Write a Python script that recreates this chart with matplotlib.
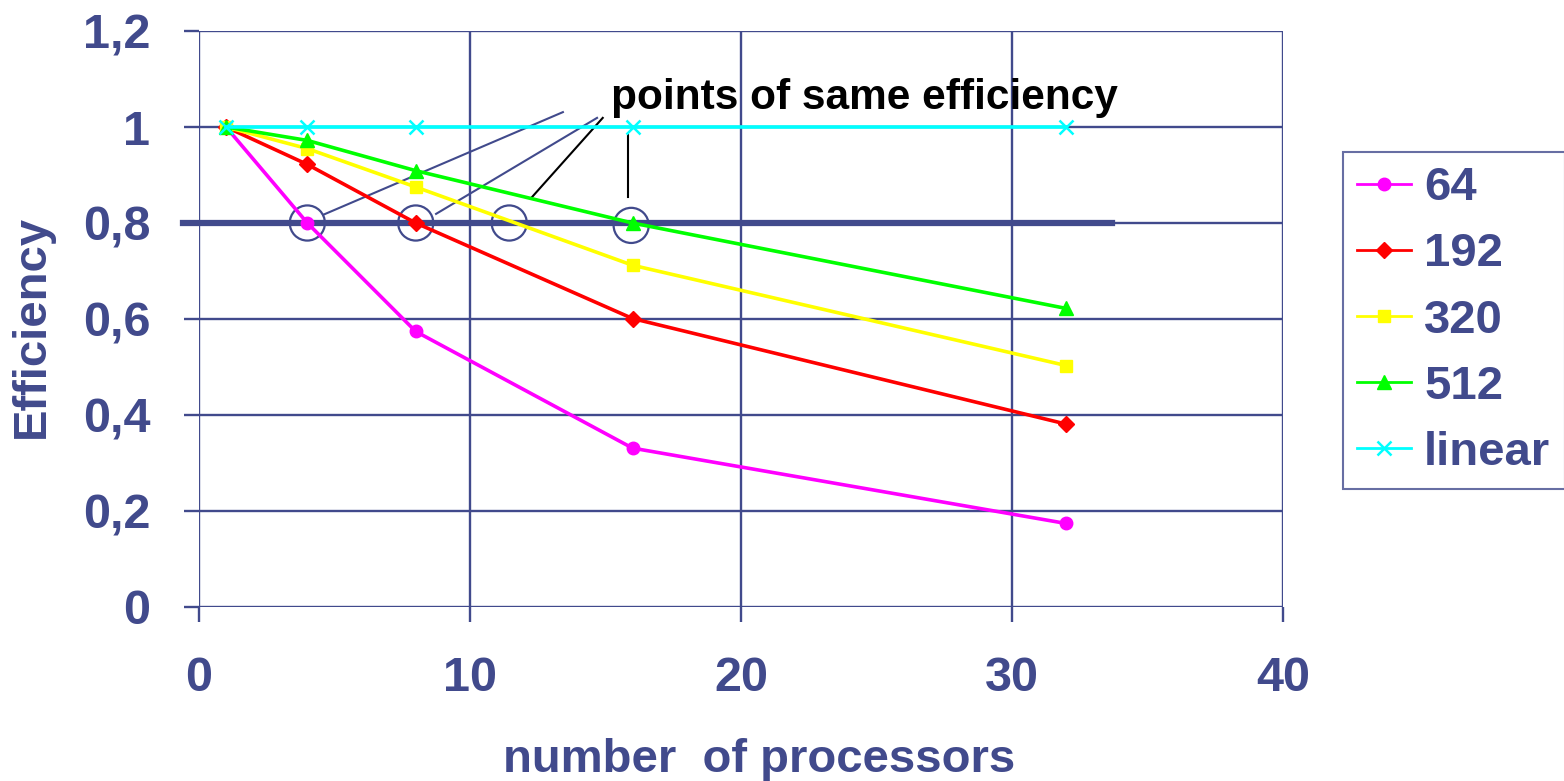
import matplotlib.pyplot as plt

plt.rcParams['font.family'] = ['Liberation Sans', 'DejaVu Sans']
plt.rcParams['font.weight'] = 'bold'

navy = '#414a8c'

# number of processors
procs = [1, 4, 8, 16, 32]

# efficiency for each problem size
eff_64 = [1.0, 0.80, 0.574, 0.331, 0.174]
eff_192 = [1.0, 0.922, 0.80, 0.601, 0.381]
eff_320 = [1.0, 0.955, 0.875, 0.712, 0.503]
eff_512 = [1.0, 0.972, 0.909, 0.80, 0.622]
eff_linear = [1.0, 1.0, 1.0, 1.0, 1.0]

# points of same efficiency (x, y)
same_x = [4, 8, 11.45, 15.95]
same_y = [0.80, 0.80, 0.80, 0.795]

fig = plt.figure(figsize=(15.64, 7.81), dpi=100)
ax = fig.add_axes([0.1272, 0.2228, 0.6931, 0.7375])

ax.set_xlim(0, 40)
ax.set_ylim(0, 1.2)
ax.set_xticks([0, 10, 20, 30, 40])
ax.set_yticks([0, 0.2, 0.4, 0.6, 0.8, 1.0, 1.2])
ax.set_yticklabels(['0', '0,2', '0,4', '0,6', '0,8', '1', '1,2'])
ax.grid(True, color=navy, linewidth=1.7)
ax.set_axisbelow(True)
for s in ax.spines.values():
    s.set_visible(False)
ax.tick_params(axis='both', colors=navy, labelsize=35, length=11, width=1.7,
               direction='out')
ax.tick_params(axis='x', pad=24)
ax.tick_params(axis='y', pad=24)
for lab in ax.get_xticklabels() + ax.get_yticklabels():
    lab.set_fontweight('bold')

# thick reference line at 0.8
ax.plot([-0.6, 33.7], [0.8, 0.8], color=navy, linewidth=4.5, clip_on=False,
        zorder=2)

# circles around same efficiency points
ax.scatter(same_x, same_y, s=640, facecolors='none', edgecolors=navy,
           linewidths=1.6, zorder=3)

# pointer lines to text
ax.plot([4.58, 13.43], [0.817, 1.031], color=navy, linewidth=1.5, zorder=3)
ax.plot([8.75, 14.69], [0.819, 1.019], color=navy, linewidth=1.5, zorder=3)
ax.plot([12.29, 14.9], [0.854, 1.019], color='black', linewidth=1.5, zorder=3)
ax.plot([15.83, 15.83], [0.854, 0.983], color='black', linewidth=1.5, zorder=3)

lw = 2.6
ax.plot(procs, eff_64, color='#ff00ff', marker='o', markersize=9, lw=lw,
        label='64', zorder=4)
ax.plot(procs, eff_192, color='#ff0000', marker='D', markersize=8, lw=lw,
        label='192', zorder=4)
ax.plot(procs, eff_320, color='#ffff00', marker='s', markersize=9, lw=lw,
        label='320', zorder=4)
ax.plot(procs, eff_512, color='#00ff00', marker='^', markersize=10, lw=lw,
        label='512', zorder=4)
ax.plot(procs, eff_linear, color='#00ffff', marker='x', markersize=10, lw=lw,
        markeredgewidth=1.8, label='linear', zorder=5)

ax.text(15.2, 1.061, 'points of same efficiency', fontsize=30.5,
        fontweight='bold', color='black', va='center', zorder=6)

fig.text(759 / 1564, 1 - 760 / 781, 'number  of processors', fontsize=34,
         fontweight='bold', color=navy, ha='center', va='center')
fig.text(32 / 1564, 1 - 326 / 781, 'Efficiency', fontsize=34,
         fontweight='bold', color=navy, ha='center', va='center',
         rotation=90)

leg = ax.legend(loc='upper left', bbox_to_anchor=(1.0554, 0.79), fontsize=34,
                frameon=True, fancybox=False, handlelength=1.15,
                handletextpad=0.27, labelspacing=0.47, borderpad=0.3,
                borderaxespad=0)
leg.get_frame().set_edgecolor(navy)
leg.get_frame().set_linewidth(1.5)
for t in leg.get_texts():
    t.set_color(navy)
    t.set_fontweight('bold')
for h in leg.legend_handles:
    h.set_linewidth(2)

fig.savefig('out.png', dpi=100)
